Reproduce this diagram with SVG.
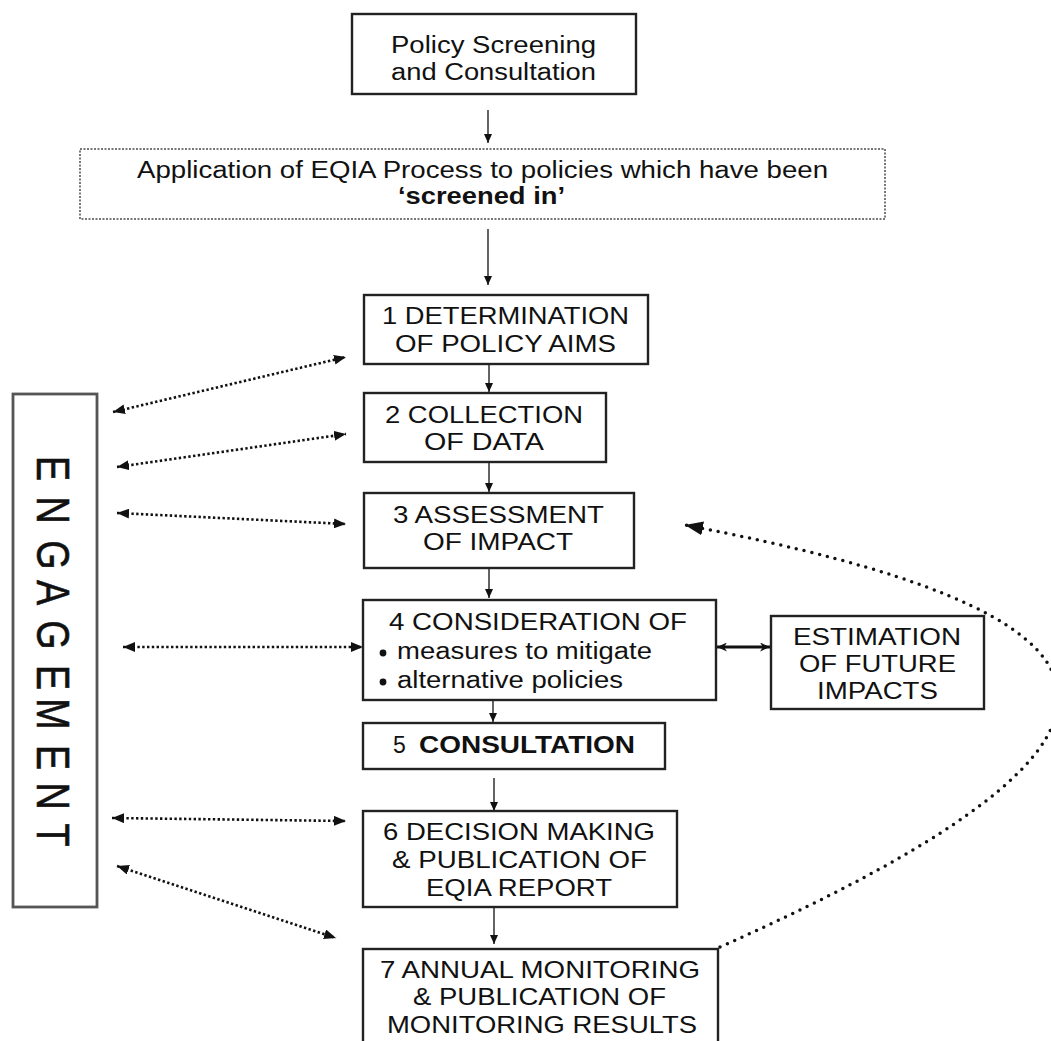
<svg xmlns="http://www.w3.org/2000/svg" width="1051" height="1041" viewBox="0 0 1051 1041">
<style>
text{font-family:"Liberation Sans",Arial,sans-serif;fill:#111;}
.t{font-size:23px;}
.t23{font-size:24px;}
.b{font-weight:bold;}
.box{fill:#fff;stroke:#222;stroke-width:2.4;}
.dbox{fill:#fff;stroke:#777;stroke-width:2;stroke-dasharray:2 1.5;}
.eng{fill:#fff;stroke:#555;stroke-width:2.8;}
.eg{font-size:46px;text-anchor:middle;stroke:#111;stroke-width:0.6;}
.sol{fill:none;stroke:#222;stroke-width:1.4;marker-end:url(#ah);}
.dot{fill:none;stroke:#111;stroke-width:2.6;stroke-dasharray:2.4 2.4;marker-start:url(#dh);marker-end:url(#dh);}
.dbl{fill:none;stroke:#111;stroke-width:2.8;marker-start:url(#bh);marker-end:url(#bh);}
.curve{fill:none;stroke:#111;stroke-width:3.5;stroke-dasharray:0 8;stroke-linecap:round;marker-end:url(#ch);}
</style>
<defs>
<marker id="ah" markerUnits="userSpaceOnUse" markerWidth="9" markerHeight="8" refX="9" refY="4" orient="auto"><path d="M0,0 L9,4 L0,8 z" fill="#111"/></marker>
<marker id="dh" markerUnits="userSpaceOnUse" markerWidth="12" markerHeight="10" refX="12" refY="5" orient="auto-start-reverse"><path d="M0,0 L12,5 L0,10 z" fill="#111"/></marker>
<marker id="bh" markerUnits="userSpaceOnUse" markerWidth="10" markerHeight="9" refX="10" refY="4.5" orient="auto-start-reverse"><path d="M0,0 L10,4.5 L0,9 L3,4.5 z" fill="#111"/></marker>
<marker id="ch" markerUnits="userSpaceOnUse" markerWidth="18" markerHeight="14" refX="18" refY="7" orient="auto"><path d="M0,0 L18,7 L0,14 z" fill="#111"/></marker>
</defs>
<rect width="1051" height="1041" fill="#fff"/>

<g id="connectors">
<line class="sol" x1="488" y1="110" x2="488" y2="143"/>
<line class="sol" x1="488" y1="229" x2="488" y2="285"/>
<line class="sol" x1="489" y1="365" x2="489" y2="392"/>
<line class="sol" x1="489" y1="463" x2="489" y2="492"/>
<line class="sol" x1="489" y1="569" x2="489" y2="598"/>
<line class="sol" x1="493" y1="701" x2="493" y2="722"/>
<line class="sol" x1="494" y1="778" x2="494" y2="811"/>
<line class="sol" x1="494" y1="908" x2="494" y2="944"/>
<line class="dot" x1="113" y1="412" x2="346" y2="357"/>
<line class="dot" x1="117" y1="467" x2="346" y2="434"/>
<line class="dot" x1="117" y1="513" x2="346" y2="524"/>
<line class="dot" x1="123" y1="647" x2="363" y2="647"/>
<line class="dot" x1="112" y1="818" x2="346" y2="821"/>
<line class="dot" x1="117" y1="866" x2="336" y2="938"/>
<line class="dbl" x1="717" y1="647" x2="770" y2="647"/>
<path class="curve" d="M720,947 C1220,725 1130,610 685,525"/>
</g>

<g id="n-screening">
<rect class="box" x="352" y="14" width="284" height="80"/>
<text class="t" x="391" y="53" textLength="205" lengthAdjust="spacingAndGlyphs">Policy Screening</text>
<text class="t" x="391" y="80" textLength="205" lengthAdjust="spacingAndGlyphs">and Consultation</text>
</g>

<g id="n-application">
<rect class="dbox" x="80" y="149" width="805" height="70"/>
<text class="t" x="137" y="178" textLength="691" lengthAdjust="spacingAndGlyphs">Application of EQIA Process to policies which have been</text>
<text class="t b" x="398" y="204" textLength="167" lengthAdjust="spacingAndGlyphs">‘screened in’</text>
</g>

<g id="n-engagement">
<rect class="eng" x="13" y="394" width="84" height="513"/>
<text class="eg" transform="translate(37,468.5) rotate(90) scale(0.82,1)">E</text>
<text class="eg" transform="translate(37,510) rotate(90) scale(0.82,1)">N</text>
<text class="eg" transform="translate(37,555) rotate(90) scale(0.82,1)">G</text>
<text class="eg" transform="translate(37,592.5) rotate(90) scale(0.82,1)">A</text>
<text class="eg" transform="translate(37,635) rotate(90) scale(0.82,1)">G</text>
<text class="eg" transform="translate(37,677.5) rotate(90) scale(0.82,1)">E</text>
<text class="eg" transform="translate(37,714) rotate(90) scale(0.82,1)">M</text>
<text class="eg" transform="translate(37,757.5) rotate(90) scale(0.82,1)">E</text>
<text class="eg" transform="translate(37,796) rotate(90) scale(0.82,1)">N</text>
<text class="eg" transform="translate(37,835) rotate(90) scale(0.82,1)">T</text>
</g>

<g id="n1">
<rect class="box" x="364" y="295" width="284" height="69"/>
<text class="t" x="382" y="324" textLength="247" lengthAdjust="spacingAndGlyphs">1 DETERMINATION</text>
<text class="t" x="395" y="352" textLength="221" lengthAdjust="spacingAndGlyphs">OF POLICY AIMS</text>
</g>

<g id="n2">
<rect class="box" x="364" y="393" width="242" height="69"/>
<text class="t" x="385" y="423" textLength="198" lengthAdjust="spacingAndGlyphs">2 COLLECTION</text>
<text class="t" x="424" y="450" textLength="120" lengthAdjust="spacingAndGlyphs">OF DATA</text>
</g>

<g id="n3">
<rect class="box" x="364" y="493" width="270" height="75"/>
<text class="t" x="393" y="523" textLength="211" lengthAdjust="spacingAndGlyphs">3 ASSESSMENT</text>
<text class="t" x="423" y="550" textLength="150" lengthAdjust="spacingAndGlyphs">OF IMPACT</text>
</g>

<g id="n4">
<rect class="box" x="363" y="600" width="353" height="100"/>
<text class="t" x="389" y="630" textLength="298" lengthAdjust="spacingAndGlyphs">4 CONSIDERATION OF</text>
<circle cx="383" cy="653" r="3.4" fill="#111"/>
<text class="t" x="397" y="659" textLength="255" lengthAdjust="spacingAndGlyphs">measures to mitigate</text>
<circle cx="383" cy="682" r="3.4" fill="#111"/>
<text class="t" x="397" y="688" textLength="226" lengthAdjust="spacingAndGlyphs">alternative policies</text>
</g>

<g id="n-estimation">
<rect class="box" x="771" y="616" width="213" height="93"/>
<text class="t" x="793" y="645" textLength="168" lengthAdjust="spacingAndGlyphs">ESTIMATION</text>
<text class="t" x="799" y="672" textLength="157" lengthAdjust="spacingAndGlyphs">OF FUTURE</text>
<text class="t" x="817" y="699" textLength="121" lengthAdjust="spacingAndGlyphs">IMPACTS</text>
</g>

<g id="n5">
<rect class="box" x="363" y="723" width="302" height="46"/>
<text class="t" x="393" y="753">5</text>
<text class="t b" x="419" y="753" textLength="216" lengthAdjust="spacingAndGlyphs">CONSULTATION</text>
</g>

<g id="n6">
<rect class="box" x="363" y="811" width="314" height="96"/>
<text class="t23" x="383" y="840" textLength="272" lengthAdjust="spacingAndGlyphs">6 DECISION MAKING</text>
<text class="t23" x="392" y="868" textLength="255" lengthAdjust="spacingAndGlyphs">&amp; PUBLICATION OF</text>
<text class="t23" x="426" y="896" textLength="186" lengthAdjust="spacingAndGlyphs">EQIA REPORT</text>
</g>

<g id="n7">
<rect class="box" x="363" y="949" width="355" height="110"/>
<text class="t23" x="380" y="978" textLength="320" lengthAdjust="spacingAndGlyphs">7 ANNUAL MONITORING</text>
<text class="t23" x="413" y="1005" textLength="253" lengthAdjust="spacingAndGlyphs">&amp; PUBLICATION OF</text>
<text class="t23" x="387" y="1033" textLength="310" lengthAdjust="spacingAndGlyphs">MONITORING RESULTS</text>
</g>
</svg>
